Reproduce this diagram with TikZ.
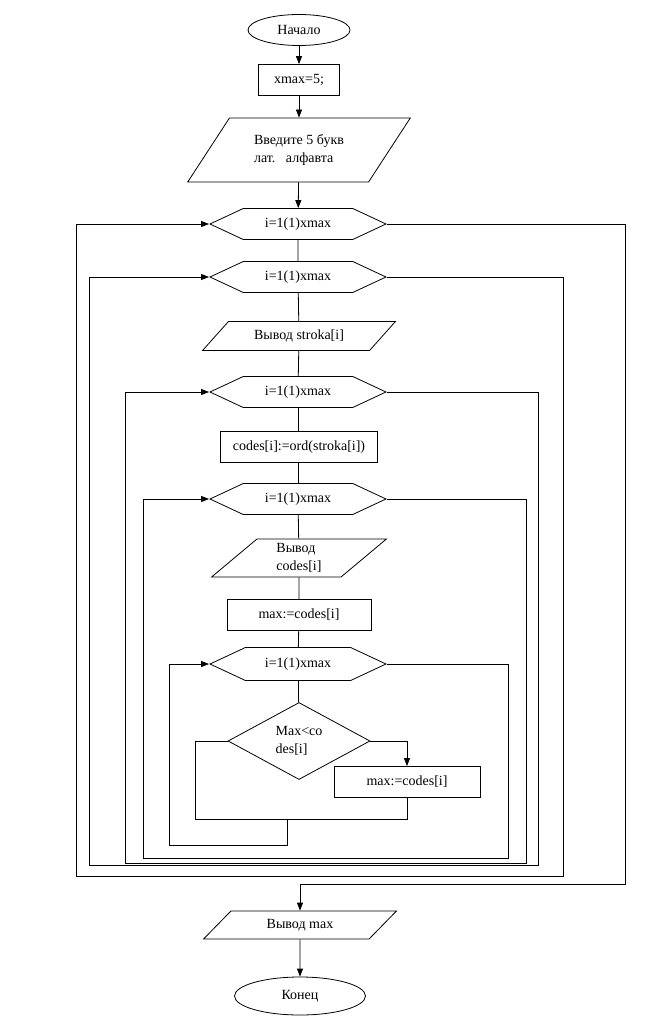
\documentclass[tikz,border=0pt]{standalone}
\usepackage{fontspec}
\setmainfont{Liberation Serif}
\usepackage{tikz}
\usetikzlibrary{shapes.geometric,shapes.symbols,arrows.meta}

\begin{document}
\begin{tikzpicture}[x=1pt, y=-1pt, line width=0.8pt,
        font=\fontsize{14}{18}\selectfont,
        >={Triangle[length=8pt,width=6pt]},
        term/.style={ellipse, draw, inner sep=0pt},
        proc/.style={rectangle, draw, inner sep=0pt, minimum height=31},
        io/.style={trapezium, draw, trapezium stretches=true, inner sep=0pt},
        loophex/.style={signal, draw, signal to=west and east, signal pointer angle=50,
            inner sep=0pt, minimum width=176, minimum height=31},
        test/.style={diamond, draw, inner sep=0pt, minimum width=142, minimum height=77}]
            \useasboundingbox (0,0) rectangle (663,1027);

            % Nodes
            \node[term, minimum width=102, minimum height=31] (start) at (299,30) {Начало};
            \node[proc, minimum width=81] (init) at (299,80) {xmax=5;};
            \node[io, trapezium left angle=49, trapezium right angle=131, minimum width=223, minimum height=64, align=left] (in1) at (299,150) {Введите 5 букв\\лат.~~~алфавта};
            \node[loophex] (h1) at (298,224) {i=1(1)xmax};
            \node[loophex] (h2) at (298,277) {i=1(1)xmax};
            \node[io, trapezium left angle=37, trapezium right angle=143, minimum width=193, minimum height=29] (out1) at (299,336) {Вывод stroka[i]};
            \node[loophex] (h3) at (298,392) {i=1(1)xmax};
            \node[proc, minimum width=157] (codes) at (299,447) {codes[i]:=ord(stroka[i])};
            \node[loophex] (h4) at (298,499) {i=1(1)xmax};
            \node[io, trapezium left angle=50, trapezium right angle=130, minimum width=176, minimum height=38, align=left] (out2) at (299,558) {Вывод\\codes[i]};
            \node[proc, minimum width=144] (setmax) at (299,615) {max:=codes[i]};
            \node[loophex, minimum height=33] (h5) at (298,664) {i=1(1)xmax};
            \node[test, align=left] (cond) at (299,741) {Max<co\\des[i]};
            \node[proc, minimum width=146] (upd) at (407,782) {max:=codes[i]};
            \node[io, trapezium left angle=42, trapezium right angle=138, minimum width=194, minimum height=28] (out3) at (300,925) {Вывод max};
            \node[term, minimum width=131, minimum height=38] (stop) at (300,996) {Конец};

            % Corners of the loop lines
            \coordinate (j1) at (195,819);
            \coordinate (m5) at (287,819);
            \coordinate (r5) at (169,845);
            \coordinate (a5) at (508,858);
            \coordinate (b5) at (143,858);
            \coordinate (a4) at (526,863);
            \coordinate (b4) at (125,863);
            \coordinate (a3) at (538,865);
            \coordinate (b3) at (89,865);
            \coordinate (a2) at (563,876);
            \coordinate (b2) at (76,876);
            \coordinate (a1) at (625,884);

            % Edges
            \draw[->] (start) -- (init);
            \draw[->] (init) -- (in1);
            \draw[->] (in1) -- (h1);
            \draw (h1) -- (h2);
            \draw (h2) -- (out1);
            \draw (out1) -- (h3);
            \draw (h3.south) -- (h3.south |- codes.north);
            \draw (codes.south) -- (codes.south -| h4.north) -- (h4.north);
            \draw (h4) -- (out2);
            \draw (out2) -- (setmax);
            \draw (setmax) -- (h5);
            \draw (h5.south) -- (h5.south |- cond.north);
            \draw[->] (cond.east) -| (upd.north);
            \draw (cond.west) -| (j1) -| (upd.south);
            \draw[->] (m5) |- (r5) |- (h5.west);
            \draw[->] (h5.east) -| (a5) -- (b5) |- (h4.west);
            \draw[->] (h4.east) -| (a4) -- (b4) |- (h3.west);
            \draw[->] (h3.east) -| (a3) -- (b3) |- (h2.west);
            \draw[->] (h2.east) -| (a2) -- (b2) |- (h1.west);
            \draw[->] (h1.east) -| (a1) -| (out3.north);
            \draw[->] (out3) -- (stop);
        \end{tikzpicture}
\end{document}
